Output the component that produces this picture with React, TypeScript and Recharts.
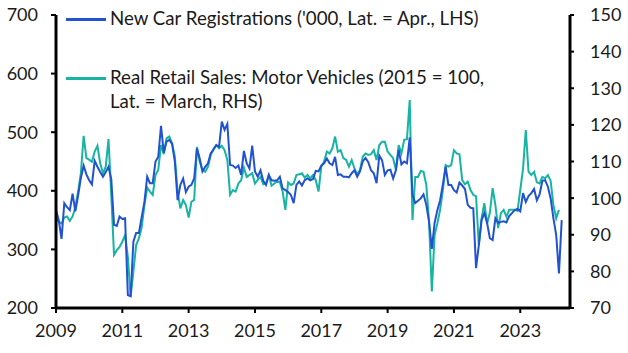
import React from "react";
import { LineChart, Line, XAxis, YAxis } from "recharts";

// monthly, Jan 2009 -> Apr 2024 ('000)
const START_YEAR = 2009;
const carRegs = [
  367, 350, 318, 379, 372, 367, 395, 365, 392, 422, 443, 428,
  418, 411, 451, 441, 432, 424, 432, 441, 420, 342, 340, 356,
  352, 353, 222, 220, 313, 328, 328, 355, 381, 424, 413, 413,
  450, 458, 511, 465, 484, 487, 480, 450, 384, 410, 421, 398,
  407, 410, 421, 472, 455, 433, 441, 447, 464, 470, 478, 475,
  518, 504, 514, 444, 443, 439, 443, 427, 468, 447, 438, 477,
  433, 424, 435, 417, 410, 427, 418, 417, 418, 424, 404, 401,
  398, 393, 379, 410, 416, 409, 418, 421, 418, 420, 434, 433,
  443, 447, 455, 447, 444, 458, 427, 428, 424, 424, 423, 430,
  435, 424, 433, 450, 456, 449, 435, 430, 413, 460, 452, 427,
  435, 436, 421, 435, 470, 445, 450, 447, 491, 393, 379, 383,
  387, 394, 376, 347, 301, 345, 367, 384, 411, 441, 410, 410,
  401, 397, 414, 409, 403, 376, 371, 370, 268, 307, 350, 362,
  345, 319, 316, 353, 345, 347, 348, 346, 357, 362, 367, 369,
  365, 396, 381, 391, 396, 403, 384, 394, 417, 418, 407, 387,
  353, 325, 259, 350,
];

// monthly, Jan 2009 -> Mar 2024 (2015 = 100)
const retailMotor = [
  94.5, 93.5, 93.1, 94.7, 95.0, 93.8, 95.0, 97.5, 101.8, 106.8, 117.0, 110.9,
  110.5, 109.9, 112.7, 114.3, 109.5, 106.8, 108.6, 116.1, 100.9, 84.5, 85.8, 86.7,
  88.1, 89.9, 84.0, 73.2, 79.9, 87.2, 89.0, 92.0, 98.1, 102.9, 101.8, 100.9,
  106.3, 107.7, 114.5, 112.0, 116.3, 116.8, 115.0, 111.3, 101.8, 97.2, 99.5, 98.1,
  94.7, 99.0, 99.5, 114.0, 109.9, 107.7, 107.2, 108.6, 111.8, 113.5, 114.5, 113.6,
  114.3, 113.1, 110.4, 100.9, 102.2, 101.8, 104.0, 104.9, 108.3, 105.8, 106.3, 106.8,
  104.0, 105.0, 105.8, 103.8, 104.0, 106.3, 103.4, 104.0, 104.5, 104.4, 101.8, 96.8,
  104.3, 103.6, 104.0, 106.3, 106.5, 106.8, 105.6, 106.3, 105.4, 106.3, 104.9, 101.8,
  108.6, 109.9, 112.7, 112.2, 113.6, 116.8, 112.7, 113.1, 110.9, 110.4, 108.6, 110.4,
  108.1, 106.5, 107.7, 111.3, 112.2, 111.8, 112.0, 113.1, 110.4, 114.5, 115.4, 115.4,
  112.7, 111.8, 110.9, 107.7, 114.5, 112.2, 115.9, 116.1, 126.8, 94.0, 105.8, 105.8,
  107.4, 107.2, 103.6, 93.6, 74.5, 89.9, 93.1, 96.8, 102.2, 109.0, 108.6, 109.0,
  113.1, 112.2, 112.0, 104.9, 103.8, 104.5, 102.2, 100.9, 100.5, 87.2, 94.5, 98.6,
  93.1, 96.0, 102.7, 98.1, 91.8, 95.9, 96.8, 94.9, 96.8, 96.8, 96.8, 96.5,
  102.2, 108.0, 118.6, 107.2, 106.3, 107.2, 104.3, 104.0, 105.8, 105.4, 106.3, 104.7,
  98.1, 94.5, 96.8,
];

const yearTicks = [2009, 2011, 2013, 2015, 2017, 2019, 2021, 2023];
const leftTicks = [200, 300, 400, 500, 600, 700];
const rightTicks = [70, 80, 90, 100, 110, 120, 130, 140, 150];

const BLUE = "#2152cf";
const TEAL = "#17b3a3";
const FONT = "Lato, 'Open Sans', sans-serif";

const data = carRegs.map((v, i) => ({
  t: START_YEAR + i / 12,
  regs: v,
  retail: i < retailMotor.length ? retailMotor[i] : null,
}));

const tickStyle = { fontSize: 18, fill: "#1a1a1a", fontFamily: FONT };

const Swatch = ({ c }: { c: string }) => (
  <span
    style={{
      display: "inline-block",
      width: 40,
      height: 2.5,
      background: c,
      marginRight: 4,
      verticalAlign: "middle",
      position: "relative",
      top: -1,
    }}
  />
);

const LegendBox = () => (
  <div
    style={{
      position: "absolute",
      left: 66,
      top: 6,
      fontFamily: FONT,
      fontSize: 18.7,
      color: "#1a1a1a",
      lineHeight: "24px",
      pointerEvents: "none",
    }}
  >
    <div style={{ whiteSpace: "nowrap" }}>
      <Swatch c={BLUE} />New Car Registrations ('000, Lat. = Apr., LHS)
    </div>
    <div style={{ marginTop: 35, whiteSpace: "nowrap" }}>
      <Swatch c={TEAL} />Real Retail Sales: Motor Vehicles (2015 = 100,
    </div>
    <div style={{ paddingLeft: 44 }}>Lat. = March, RHS)</div>
  </div>
);

export default function App() {
  return (
    <div style={{ position: "absolute", left: 0, top: 0, width: 628, height: 353, background: "#fff" }}>
      <LineChart width={628} height={353} data={data} margin={{ top: 15, right: 0, bottom: 0, left: 0 }}>
        <XAxis
          dataKey="t"
          type="number"
          domain={[2009, 2024.5]}
          ticks={yearTicks}
          interval={0}
          allowDataOverflow
          height={45}
          tick={tickStyle}
          tickSize={5}
          tickMargin={11}
          axisLine={{ stroke: "#000", strokeWidth: 3 }}
          tickLine={{ stroke: "#000", strokeWidth: 2 }}
        />
        <YAxis
          yAxisId="left"
          domain={[200, 700]}
          ticks={leftTicks}
          interval={0}
          width={56}
          tick={tickStyle}
          tickSize={5}
          tickMargin={13}
          axisLine={{ stroke: "#000", strokeWidth: 3 }}
          tickLine={{ stroke: "#000", strokeWidth: 2 }}
        />
        <YAxis
          yAxisId="right"
          orientation="right"
          domain={[70, 150]}
          ticks={rightTicks}
          interval={0}
          width={58}
          tick={tickStyle}
          tickSize={4}
          tickMargin={16}
          axisLine={{ stroke: "#000", strokeWidth: 3 }}
          tickLine={{ stroke: "#000", strokeWidth: 2 }}
        />
        <Line
          yAxisId="right"
          dataKey="retail"
          stroke={TEAL}
          strokeWidth={2}
          dot={false}
          type="linear"
          isAnimationActive={false}
        />
        <Line
          yAxisId="left"
          dataKey="regs"
          stroke={BLUE}
          strokeWidth={2}
          dot={false}
          type="linear"
          isAnimationActive={false}
        />
      </LineChart>
      <LegendBox />
    </div>
  );
}
